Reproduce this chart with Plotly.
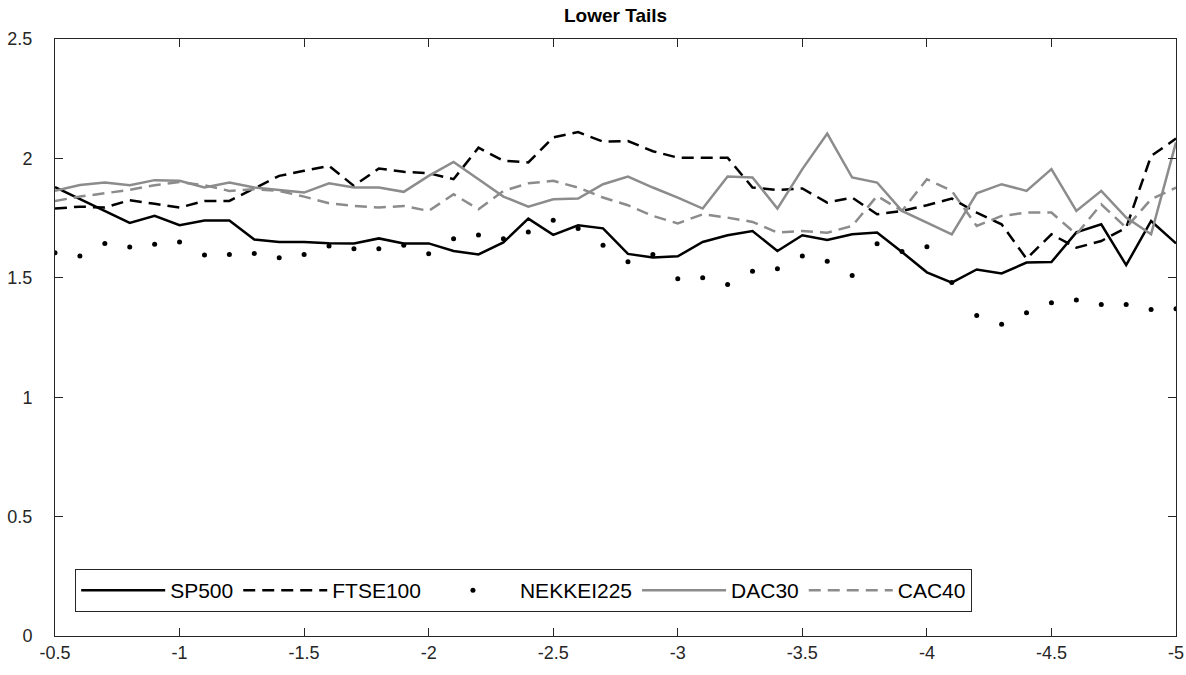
import plotly.graph_objects as go

x_vals = [round(-0.5 - 0.1 * i, 1) for i in range(46)]

sp500 = [1.88, 1.83, 1.78, 1.73, 1.76, 1.72, 1.74, 1.74, 1.66, 1.65, 1.65, 1.645,
         1.644, 1.665, 1.644, 1.644, 1.612, 1.598, 1.648, 1.748, 1.68, 1.72, 1.707,
         1.60, 1.585, 1.59, 1.65, 1.678, 1.696, 1.612, 1.678, 1.658, 1.682, 1.69,
         1.608, 1.523, 1.48, 1.535, 1.518, 1.564, 1.566, 1.69, 1.724, 1.553, 1.738, 1.644]

ftse100 = [1.79, 1.798, 1.794, 1.825, 1.81, 1.794, 1.822, 1.822, 1.874, 1.927, 1.948,
           1.969, 1.885, 1.958, 1.944, 1.938, 1.913, 2.045, 1.99, 1.983, 2.088, 2.11,
           2.07, 2.073, 2.03, 2.003, 2.003, 2.003, 1.878, 1.868, 1.874, 1.815, 1.836,
           1.766, 1.78, 1.804, 1.832, 1.773, 1.724, 1.58, 1.682, 1.626, 1.654, 1.71,
           2.01, 2.083]

nekkei225 = [1.605, 1.591, 1.644, 1.629, 1.64, 1.65, 1.595, 1.598, 1.602, 1.584, 1.598,
             1.633, 1.622, 1.622, 1.636, 1.601, 1.664, 1.679, 1.664, 1.692, 1.741, 1.706,
             1.636, 1.567, 1.598, 1.496, 1.50, 1.472, 1.527, 1.538, 1.591, 1.569, 1.51,
             1.643, 1.61, 1.63, 1.48, 1.342, 1.305, 1.354, 1.396, 1.407, 1.388, 1.388,
             1.367, 1.37]

dac30 = [1.864, 1.889, 1.899, 1.888, 1.909, 1.906, 1.878, 1.899, 1.878, 1.868, 1.857,
         1.896, 1.878, 1.878, 1.86, 1.927, 1.985, 1.913, 1.84, 1.798, 1.829, 1.832,
         1.892, 1.924, 1.878, 1.836, 1.79, 1.924, 1.92, 1.79, 1.955, 2.104, 1.92,
         1.899, 1.78, 1.731, 1.682, 1.854, 1.892, 1.864, 1.955, 1.78, 1.864, 1.752,
         1.682, 2.067]

cac40 = [1.822, 1.84, 1.854, 1.868, 1.888, 1.901, 1.888, 1.864, 1.871, 1.864, 1.84,
         1.812, 1.801, 1.794, 1.801, 1.78, 1.85, 1.787, 1.864, 1.896, 1.906, 1.878,
         1.836, 1.804, 1.759, 1.728, 1.766, 1.752, 1.734, 1.689, 1.696, 1.689, 1.717,
         1.843, 1.78, 1.913, 1.864, 1.717, 1.759, 1.773, 1.773, 1.682, 1.808, 1.71,
         1.829, 1.878]

x_ticks = [-0.5, -1, -1.5, -2, -2.5, -3, -3.5, -4, -4.5, -5]
x_tick_labels = ["-0.5", "-1", "-1.5", "-2", "-2.5", "-3", "-3.5", "-4", "-4.5", "-5"]
y_ticks = [0, 0.5, 1, 1.5, 2, 2.5]
y_tick_labels = ["0", "0.5", "1", "1.5", "2", "2.5"]

BLACK = "#000000"
GRAY = "#8c8c8c"
DASH = "12px,7px"
FONT = "Liberation Sans, Arial, sans-serif"

fig = go.Figure()
fig.add_trace(go.Scatter(x=x_vals, y=sp500, mode="lines", name="SP500",
                         line=dict(color=BLACK, width=2.5)))
fig.add_trace(go.Scatter(x=x_vals, y=ftse100, mode="lines", name="FTSE100",
                         line=dict(color=BLACK, width=2.5, dash=DASH)))
fig.add_trace(go.Scatter(x=x_vals, y=nekkei225, mode="markers", name="NEKKEI225",
                         marker=dict(color=BLACK, size=5)))
fig.add_trace(go.Scatter(x=x_vals, y=dac30, mode="lines", name="DAC30",
                         line=dict(color=GRAY, width=2.5)))
fig.add_trace(go.Scatter(x=x_vals, y=cac40, mode="lines", name="CAC40",
                         line=dict(color=GRAY, width=2.5, dash=DASH)))

axis_common = dict(
    showgrid=False, zeroline=False, showline=True, linecolor="#262626", linewidth=1,
    mirror="ticks", ticks="inside", ticklen=8, tickcolor="#262626", tickwidth=1,
    automargin=False,
    tickfont=dict(family=FONT, size=18, color="#262626"),
)

fig.update_layout(
    width=1186, height=675,
    margin=dict(l=55, r=10, t=39, b=39),
    paper_bgcolor="white", plot_bgcolor="white",
    title=dict(text="<b>Lower Tails</b>", x=0.519, xanchor="center", y=0.977, yanchor="middle",
               font=dict(family=FONT, size=19, color="#000000")),
    xaxis=dict(range=[-0.5, -5], tickvals=x_ticks, ticktext=x_tick_labels,
               ticklabelstandoff=0, **axis_common),
    yaxis=dict(range=[0, 2.5], tickvals=y_ticks, ticktext=y_tick_labels,
               ticklabelstandoff=18, **axis_common),
    legend=dict(orientation="h", x=0.018, xanchor="left", y=0.04, yanchor="bottom",
                bgcolor="white", bordercolor="#262626", borderwidth=1,
                font=dict(family=FONT, size=21, color="#000000"),
                itemwidth=84),
    showlegend=True,
)

fig.write_html("out.html", config={"displayModeBar": False},
               post_script="document.body.style.margin='0';")
